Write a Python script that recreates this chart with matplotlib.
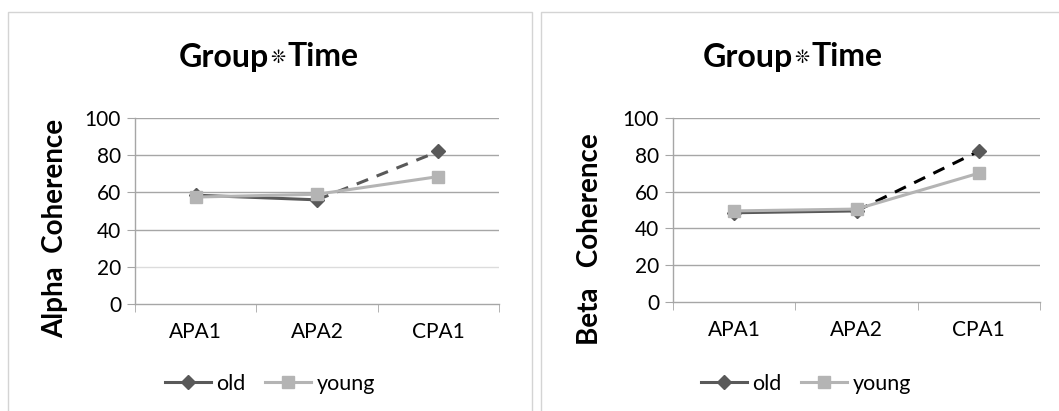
import matplotlib.pyplot as plt
from matplotlib.patches import Rectangle

plt.rcParams['font.family'] = ['Lato', 'DejaVu Sans']

# Data
times = ['APA1', 'APA2', 'CPA1']
alpha_old = [58.5, 56, 82]
alpha_young = [57.5, 59, 68.5]
beta_old = [48.5, 49.5, 82]
beta_young = [49.5, 50.5, 70]
y_ticks = [0, 20, 40, 60, 80, 100]

OLD = '#595959'
YOUNG = '#b4b4b4'
GRID = '#a6a6a6'

fig = plt.figure(figsize=(10.59, 4.11), dpi=100)

# Panel frames
W, H = 1059, 411
for x0, x1 in [(8, 532), (541, 1062)]:
    fig.patches.append(Rectangle((x0 / W, -0.05), (x1 - x0) / W, 1 - 12 / H + 0.05,
                                 transform=fig.transFigure, fill=False,
                                 edgecolor='#d4d4d4', lw=1.0))


def draw_panel(rect, old, young, dash_color, ylabel, ylabel_x, ylabel_y,
               star_x, legend_x, light20):
    ax = fig.add_axes(rect)
    x = list(range(len(times)))
    # old: solid first segment, dashed to the last point
    ax.plot(x[:2], old[:2], color=OLD, lw=2.2, zorder=3)
    ax.plot(x[1:], old[1:], color=dash_color, lw=2.2, ls=(0, (4, 3)), zorder=3)
    ax.plot(x, old, ls='none', marker='D', ms=7, color=OLD, zorder=4)
    ax.plot(x, young, color=YOUNG, lw=2.2, marker='s', ms=8.5, zorder=5)

    ax.set_xlim(-0.5, 2.5)
    ax.set_ylim(0, 100)
    ax.set_yticks(y_ticks)
    ax.set_xticks(x)
    ax.set_xticklabels(times)
    ax.set_xticks([-0.5, 0.5, 1.5, 2.5], minor=True)
    ax.tick_params(axis='x', which='major', length=0, pad=13, labelsize=15)
    ax.tick_params(axis='x', which='minor', length=6, color=GRID, direction='out')
    ax.tick_params(axis='y', length=6, color=GRID, labelsize=15, pad=4)
    for t in y_ticks[1:]:
        c = '#dcdcdc' if (light20 and t == 20) else GRID
        ax.axhline(t, color=c, lw=1.0, zorder=1)
    for s in ['top', 'right']:
        ax.spines[s].set_visible(False)
    for s in ['left', 'bottom']:
        ax.spines[s].set_color(GRID)
        ax.spines[s].set_linewidth(1.0)

    fig.text(ylabel_x / W, 1 - ylabel_y / H, ylabel, rotation=90, ha='center',
             va='center', fontsize=20, fontweight='bold')
    # title in three pieces so the asterisk can be small
    ty = 1 - 57 / H
    fig.text((star_x - 9) / W, ty, 'Group', ha='right', va='center',
             fontsize=23, fontweight='bold')
    fig.text(star_x / W, ty - 1 / H, '\u274a', ha='center', va='center',
             fontsize=13, family='DejaVu Sans')
    fig.text((star_x + 9) / W, ty, 'Time', ha='left', va='center',
             fontsize=23, fontweight='bold')

    # legend below
    h_old, = ax.plot([], [], color=OLD, lw=2.2, marker='D', ms=7)
    h_young, = ax.plot([], [], color=YOUNG, lw=2.2, marker='s', ms=8.5)
    fig.legend([h_old, h_young], ['old', 'young'], loc='center',
               bbox_to_anchor=(legend_x / W, 1 - 384 / H), ncol=2, frameon=False,
               fontsize=15.5, handlelength=2.15, handletextpad=0.25, columnspacing=0.9)


draw_panel([135 / W, 1 - 304 / H, 364 / W, 186 / H], alpha_old, alpha_young, OLD,
           'Alpha  Coherence', 55, 228, 278, 270, True)
draw_panel([673 / W, 1 - 302 / H, 367 / W, 184 / H], beta_old, beta_young, 'black',
           'Beta   Coherence', 590, 239, 802, 806, False)

fig.savefig('out.png', dpi=100)
